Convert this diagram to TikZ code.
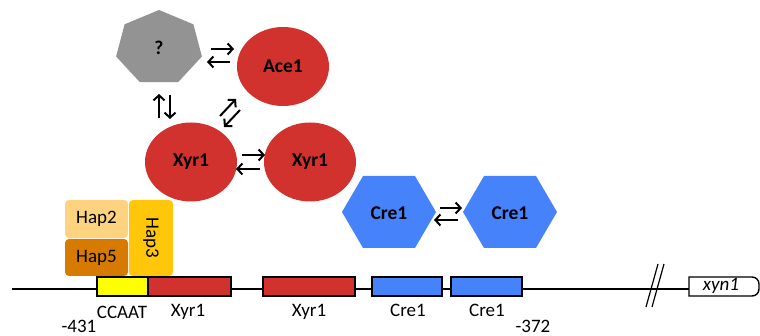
\documentclass[tikz,border=0pt]{standalone}
\usepackage{fontspec}
\setmainfont{Carlito}
\usetikzlibrary{arrows.meta,shapes.geometric}
\definecolor{redc}{RGB}{209,50,45}
\definecolor{grayc}{RGB}{147,147,147}
\definecolor{bluec}{RGB}{70,130,250}
\definecolor{haptwo}{RGB}{253,211,128}
\definecolor{hapfive}{RGB}{214,122,0}
\definecolor{hapthree}{RGB}{255,198,10}
\definecolor{yellowc}{RGB}{255,255,0}
\begin{document}
\begin{tikzpicture}[x=1pt,y=-1pt,
  lbl/.style={font=\fontsize{19}{22}\selectfont, inner sep=0pt},
  bold/.style={font=\fontsize{19.5}{22}\selectfont\bfseries, inner sep=0pt},
  prot/.style={ellipse, fill=redc, minimum width=92pt, minimum height=79pt, inner sep=0pt, font=\fontsize{19.5}{22}\selectfont\bfseries},
  eq/.style={line width=2pt, -{Straight Barb[length=5pt,width=11pt,line width=2pt]}},
  site/.style={draw=black, line width=1.4pt}]
\useasboundingbox (0,0) rectangle (760,336);

% DNA line
\coordinate (lstart) at (12,289);
\coordinate (lend) at (690,289);
\draw[line width=1.3pt] (lstart) -- (lend);
\draw[line width=1.2pt] (646,307) -- (658,264);
\draw[line width=1.2pt] (652,307) -- (664,264);

% sites
\draw[site, fill=yellowc] (97,277) rectangle (148,296);
\draw[site, fill=redc] (148,277) rectangle (231,296);
\draw[site, fill=redc] (263,277) rectangle (355,296);
\draw[site, fill=bluec] (372,277) rectangle (442,296);
\draw[site, fill=bluec] (451,277) rectangle (522,296);
\draw[site, fill=white] (689,277) -- (752,277) to[out=0,in=90] (759,284) -- (759,289) to[out=-90,in=0] (752,296) -- (689,296) -- cycle;

\node[lbl] (tccaat) at (122,312) {CCAAT};
\node[lbl] (txyra) at (188,312) {Xyr1};
\node[lbl] (txyrb) at (309,312) {Xyr1};
\node[lbl] (tcrea) at (408,310) {Cre1};
\node[lbl] (tcreb) at (487,310) {Cre1};
\node[lbl] (tm431) at (79,326) {-431};
\node[lbl] (tm372) at (533,326) {-372};
\node[lbl, font=\fontsize{19}{22}\selectfont\itshape] (txyn) at (721,286) {xyn1};

% Hap complex
\fill[haptwo, rounded corners=4pt] (65,200) rectangle (128,238);
\node[lbl] (hap2) at (96.5,219) {Hap2};
\fill[hapfive, rounded corners=4pt] (65,239) rectangle (128,276);
\node[lbl] (hap5) at (96.5,257.5) {Hap5};
\fill[hapthree, rounded corners=4pt] (129,200) rectangle (173,276);
\node[lbl, rotate=-90] (hap3) at (151,238) {Hap3};

% unknown heptagon
\fill[grayc] (159,10) -- (124.6,24.3) -- (116.1,56.5) -- (139.9,82.2) -- (178.1,82.2) -- (201.9,56.5) -- (193.4,24.3) -- cycle;
\node[bold] (q) at (159,48) {?};

% red proteins
\node[prot] (ace) at (283,66.5) {Ace1};
\node[prot] (xyra) at (191,162) {Xyr1};
\node[prot] (xyrb) at (310,162) {Xyr1};

% Cre1 hexagons
\fill[bluec] (342,212) -- (363,176) -- (415,176) -- (436,212) -- (415,248) -- (363,248) -- cycle;
\node[bold] (crea) at (389,213) {Cre1};
\fill[bluec] (463,212) -- (484,176) -- (536,176) -- (557,212) -- (536,248) -- (484,248) -- cycle;
\node[bold] (creb) at (510,213) {Cre1};

% equilibrium arrows
\draw[eq] (211,49) -- (234,49);
\draw[eq] (230,62) -- (207,62);
\draw[eq] (159,118) -- (159,94);
\draw[eq] (170,95) -- (170,119);
\draw[eq] (220,116) -- (236,99);
\draw[eq] (240,110) -- (224,127);
\draw[eq] (242,155) -- (265,155);
\draw[eq] (260,169) -- (236,169);
\draw[eq] (440,208) -- (462,208);
\draw[eq] (458,220) -- (434,220);
\end{tikzpicture}
\end{document}
